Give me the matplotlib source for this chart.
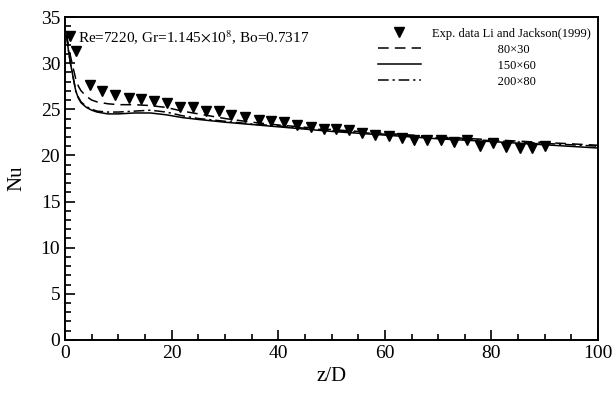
import matplotlib
matplotlib.use("Agg")
import matplotlib.pyplot as plt
from matplotlib.ticker import MultipleLocator
from matplotlib.legend_handler import HandlerLine2D

plt.rcParams['font.family'] = ['Liberation Serif', 'DejaVu Serif']
plt.rcParams['mathtext.fontset'] = 'stix'

# experimental data (Li and Jackson 1999)
exp_x = [0.9, 2.1, 4.6, 6.9, 9.4, 11.9, 14.3, 16.6, 19.2, 21.6, 24.0, 26.5, 28.8,
         31.1, 33.8, 36.3, 38.6, 41.1, 43.6, 46.1, 48.5, 50.8, 53.3, 55.8, 58.2,
         60.7, 63.2, 65.5, 68.0, 70.5, 73.0, 75.5, 77.9, 80.2, 82.8, 85.4, 87.7, 90.1]
exp_nu = [32.9, 31.3, 27.6, 27.0, 26.6, 26.2, 26.1, 25.9, 25.7, 25.3, 25.2, 24.8, 24.8,
          24.4, 24.2, 23.8, 23.7, 23.6, 23.3, 23.1, 22.9, 22.9, 22.7, 22.4, 22.2,
          22.1, 21.9, 21.7, 21.7, 21.7, 21.5, 21.7, 21.0, 21.3, 20.9, 20.8, 20.8, 21.0]

# simulations on three grids
z = [0.3, 0.6, 1.0, 1.5, 2.0, 2.5, 3.0, 4.0, 5.0, 6.0, 8.0, 10, 13, 16, 19, 22, 25,
     30, 35, 40, 50, 60, 70, 80, 90, 100]
nu_80x30 = [33.0, 32.0, 30.8, 29.5, 28.3, 27.5, 27.0, 26.4, 26.0, 25.8, 25.6, 25.5, 25.5,
            25.4, 25.2, 24.8, 24.5, 24.0, 23.6, 23.3, 22.8, 22.4, 22.0, 21.7, 21.4, 21.1]
nu_150x60 = [33.0, 31.5, 30.0, 28.5, 27.0, 26.2, 25.7, 25.2, 24.9, 24.7, 24.5, 24.5, 24.6,
             24.6, 24.4, 24.1, 23.9, 23.6, 23.35, 23.1, 22.6, 22.2, 21.8, 21.5, 21.15, 20.8]
nu_200x80 = [33.0, 31.5, 30.0, 28.5, 27.0, 26.3, 25.8, 25.3, 25.0, 24.8, 24.7, 24.7, 24.8,
             24.9, 24.7, 24.3, 24.0, 23.7, 23.4, 23.2, 22.7, 22.3, 21.9, 21.6, 21.3, 21.0]

labels = ['Exp. data Li and Jackson(1999)', '80\u00d730', '150\u00d760', '200\u00d780']


class EndMarkerHandler(HandlerLine2D):
    # put the single legend marker at the right end of the handle
    def get_xdata(self, legend, xdescent, ydescent, width, height, fontsize):
        x0 = -xdescent
        x1 = -xdescent + width
        return [x0, x1], [x1 - 3]


fig = plt.figure(figsize=(6.14, 3.97), dpi=100)
ax = fig.add_axes([0.106, 0.144, 0.868, 0.813])

l0, = ax.plot(exp_x, exp_nu, linestyle='none', marker='v', color='black', markersize=7)
l1, = ax.plot(z, nu_80x30, color='black', lw=1.1, dashes=(7, 4))
l2, = ax.plot(z, nu_150x60, color='black', lw=1.1)
l3, = ax.plot(z, nu_200x80, color='black', lw=1.1, dashes=(7, 2.5, 1.5, 2.5))

ax.set_xlim(0, 100)
ax.set_ylim(0, 35)
ax.xaxis.set_major_locator(MultipleLocator(20))
ax.xaxis.set_minor_locator(MultipleLocator(5))
ax.yaxis.set_major_locator(MultipleLocator(5))
ax.yaxis.set_minor_locator(MultipleLocator(1))
ax.tick_params(which='both', direction='in', top=False, right=False, labelsize=14, width=1.2)
ax.tick_params(which='major', length=7)
ax.tick_params(which='minor', length=4)
for s in ax.spines.values():
    s.set_linewidth(1.4)

ax.set_xlabel('z/D', fontsize=15, labelpad=4)
ax.set_ylabel('Nu', fontsize=15, labelpad=10)

ax.text(0.025, 0.965, r'Re=7220, Gr=1.145$\times$10$^8$, Bo=0.7317', transform=ax.transAxes,
        fontsize=11, va='top', ha='left')

pad = ' ' * 21
ax.legend([l0, l1, l2, l3],
          [labels[0], pad + labels[1], pad + labels[2], pad + labels[3]],
          handler_map={l0: EndMarkerHandler()},
          loc='upper right', bbox_to_anchor=(1.0, 0.99), frameon=False, fontsize=9,
          handlelength=3.4, labelspacing=0.32, borderaxespad=0.2, handletextpad=0.9)

fig.savefig('out.png', dpi=100)
